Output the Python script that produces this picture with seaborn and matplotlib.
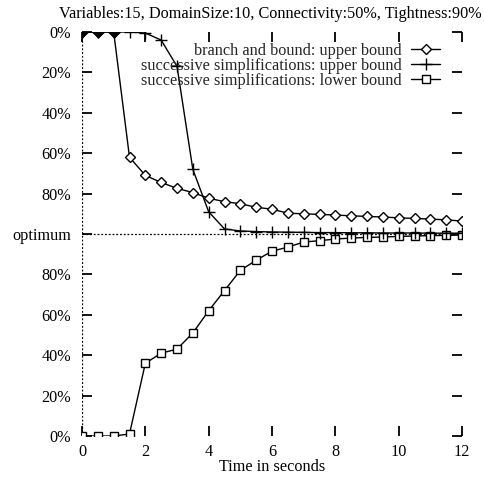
import numpy as np
import pandas as pd
import matplotlib
matplotlib.use("Agg")
import matplotlib.pyplot as plt
import seaborn as sns

# ---- data ----
times = [0, 0.5, 1, 1.5, 2, 2.5, 3, 3.5, 4, 4.5, 5, 5.5, 6, 6.5, 7, 7.5, 8,
         8.5, 9, 9.5, 10, 10.5, 11, 11.5, 12]
bb_upper = [0, 0, 0, 62, 71, 74.5, 77.4, 79.5, 82.3, 84, 85, 86.8, 87.7, 89.7,
            90, 90.3, 90.6, 91, 91.3, 91.6, 92, 92.3, 92.6, 93, 93.6]
ss_upper = [0, 0, 0, 0, 0.5, 4, 17, 68, 89, 97.5, 98.5, 98.8, 99, 99.1, 99.2,
            99.3, 99.3, 99.4, 99.4, 99.5, 99.5, 99.5, 99.6, 99.6, 99.6]
ss_lower = [0, 0, 0, 1, 36, 41, 43, 51, 62, 72, 82, 87, 91.5, 93.5, 96, 96.7,
            97.5, 98, 98.3, 98.5, 98.8, 99, 99.2, 99.3, 99.5]
series_names = ["branch and bound: upper bound",
                "successive simplifications: upper bound",
                "successive simplifications: lower bound"]
ytick_labels = ["0%", "20%", "40%", "60%", "80%", "optimum",
                "80%", "60%", "40%", "20%", "0%"]
xtick_vals = [0, 2, 4, 6, 8, 10, 12]
title = "Variables:15, DomainSize:10, Connectivity:50%, Tightness:90%"
xlabel = "Time in seconds"

sns.set_theme(style="white")
plt.rcParams['font.family'] = ['Liberation Serif', 'DejaVu Serif']
FS = 11.7

fig = plt.figure(figsize=(4.84, 4.78), dpi=100)
ax = fig.add_axes([82/484, 1-436/478, (462-82)/484, (436-32)/478])

# upper bounds drawn from the top (0% -> 200), lower bound from the bottom
df_bb = pd.DataFrame({"t": times, "y": [200 - v for v in bb_upper]})
df_su = pd.DataFrame({"t": times, "y": [200 - v for v in ss_upper]})
df_sl = pd.DataFrame({"t": times, "y": ss_lower})

# reference lines (gnuplot zero axes)
ax.axhline(100, color="black", lw=0.9, ls=(0, (1.5, 1.5)), zorder=1)
ax.axvline(0, color="black", lw=0.9, ls=(0, (1.5, 1.5)), zorder=1)

sns.lineplot(data=df_bb, x="t", y="y", ax=ax, color="black", lw=1.0,
             marker="D", markersize=5.5, markerfacecolor="white",
             markeredgecolor="black", markeredgewidth=1.0,
             label=series_names[0], zorder=3)
# points still at 0% appear as solid diamonds in the reference
df_bb0 = df_bb[np.array(bb_upper) == 0]
sns.scatterplot(data=df_bb0, x="t", y="y", ax=ax, color="black", marker="D",
                s=32, edgecolor="black", linewidth=0.8, zorder=5, legend=False)
sns.lineplot(data=df_su, x="t", y="y", ax=ax, color="black", lw=1.0,
             marker="+", markersize=8, markeredgewidth=1.0,
             markeredgecolor="black",
             label=series_names[1], zorder=4)
sns.lineplot(data=df_sl, x="t", y="y", ax=ax, color="black", lw=1.0,
             marker="s", markersize=6, markerfacecolor="white",
             markeredgecolor="black", markeredgewidth=1.0,
             label=series_names[2], zorder=3)

ax.set_xlim(0, 12)
ax.set_ylim(0, 200)
ax.set_xticks(xtick_vals)
ax.set_xticklabels([str(v) for v in xtick_vals])
ax.set_yticks(np.linspace(0, 200, 11))
ax.set_yticklabels(ytick_labels[::-1])
for s in ax.spines.values():
    s.set_visible(False)
ax.tick_params(direction="in", length=7, width=1.3, color="black",
               top=True, right=True, bottom=True, left=True,
               labelsize=FS, labelcolor="black")
ax.tick_params(axis="y", pad=8)
ax.tick_params(axis="x", pad=6)
ax.set_xlabel(xlabel, fontsize=FS, labelpad=-1, color="black")
ax.set_ylabel("")
fig.text(0.995, 1-14/478, title, ha="right", va="center", fontsize=FS,
         color="black")

leg = ax.legend(loc="upper right", bbox_to_anchor=(0.96, 0.99),
                frameon=False, markerfirst=False, fontsize=FS,
                handlelength=1.8, handletextpad=0.6, labelspacing=-0.06,
                borderaxespad=0)
for t in leg.get_texts():
    t.set_ha("right")

fig.savefig("out.png", dpi=100)
